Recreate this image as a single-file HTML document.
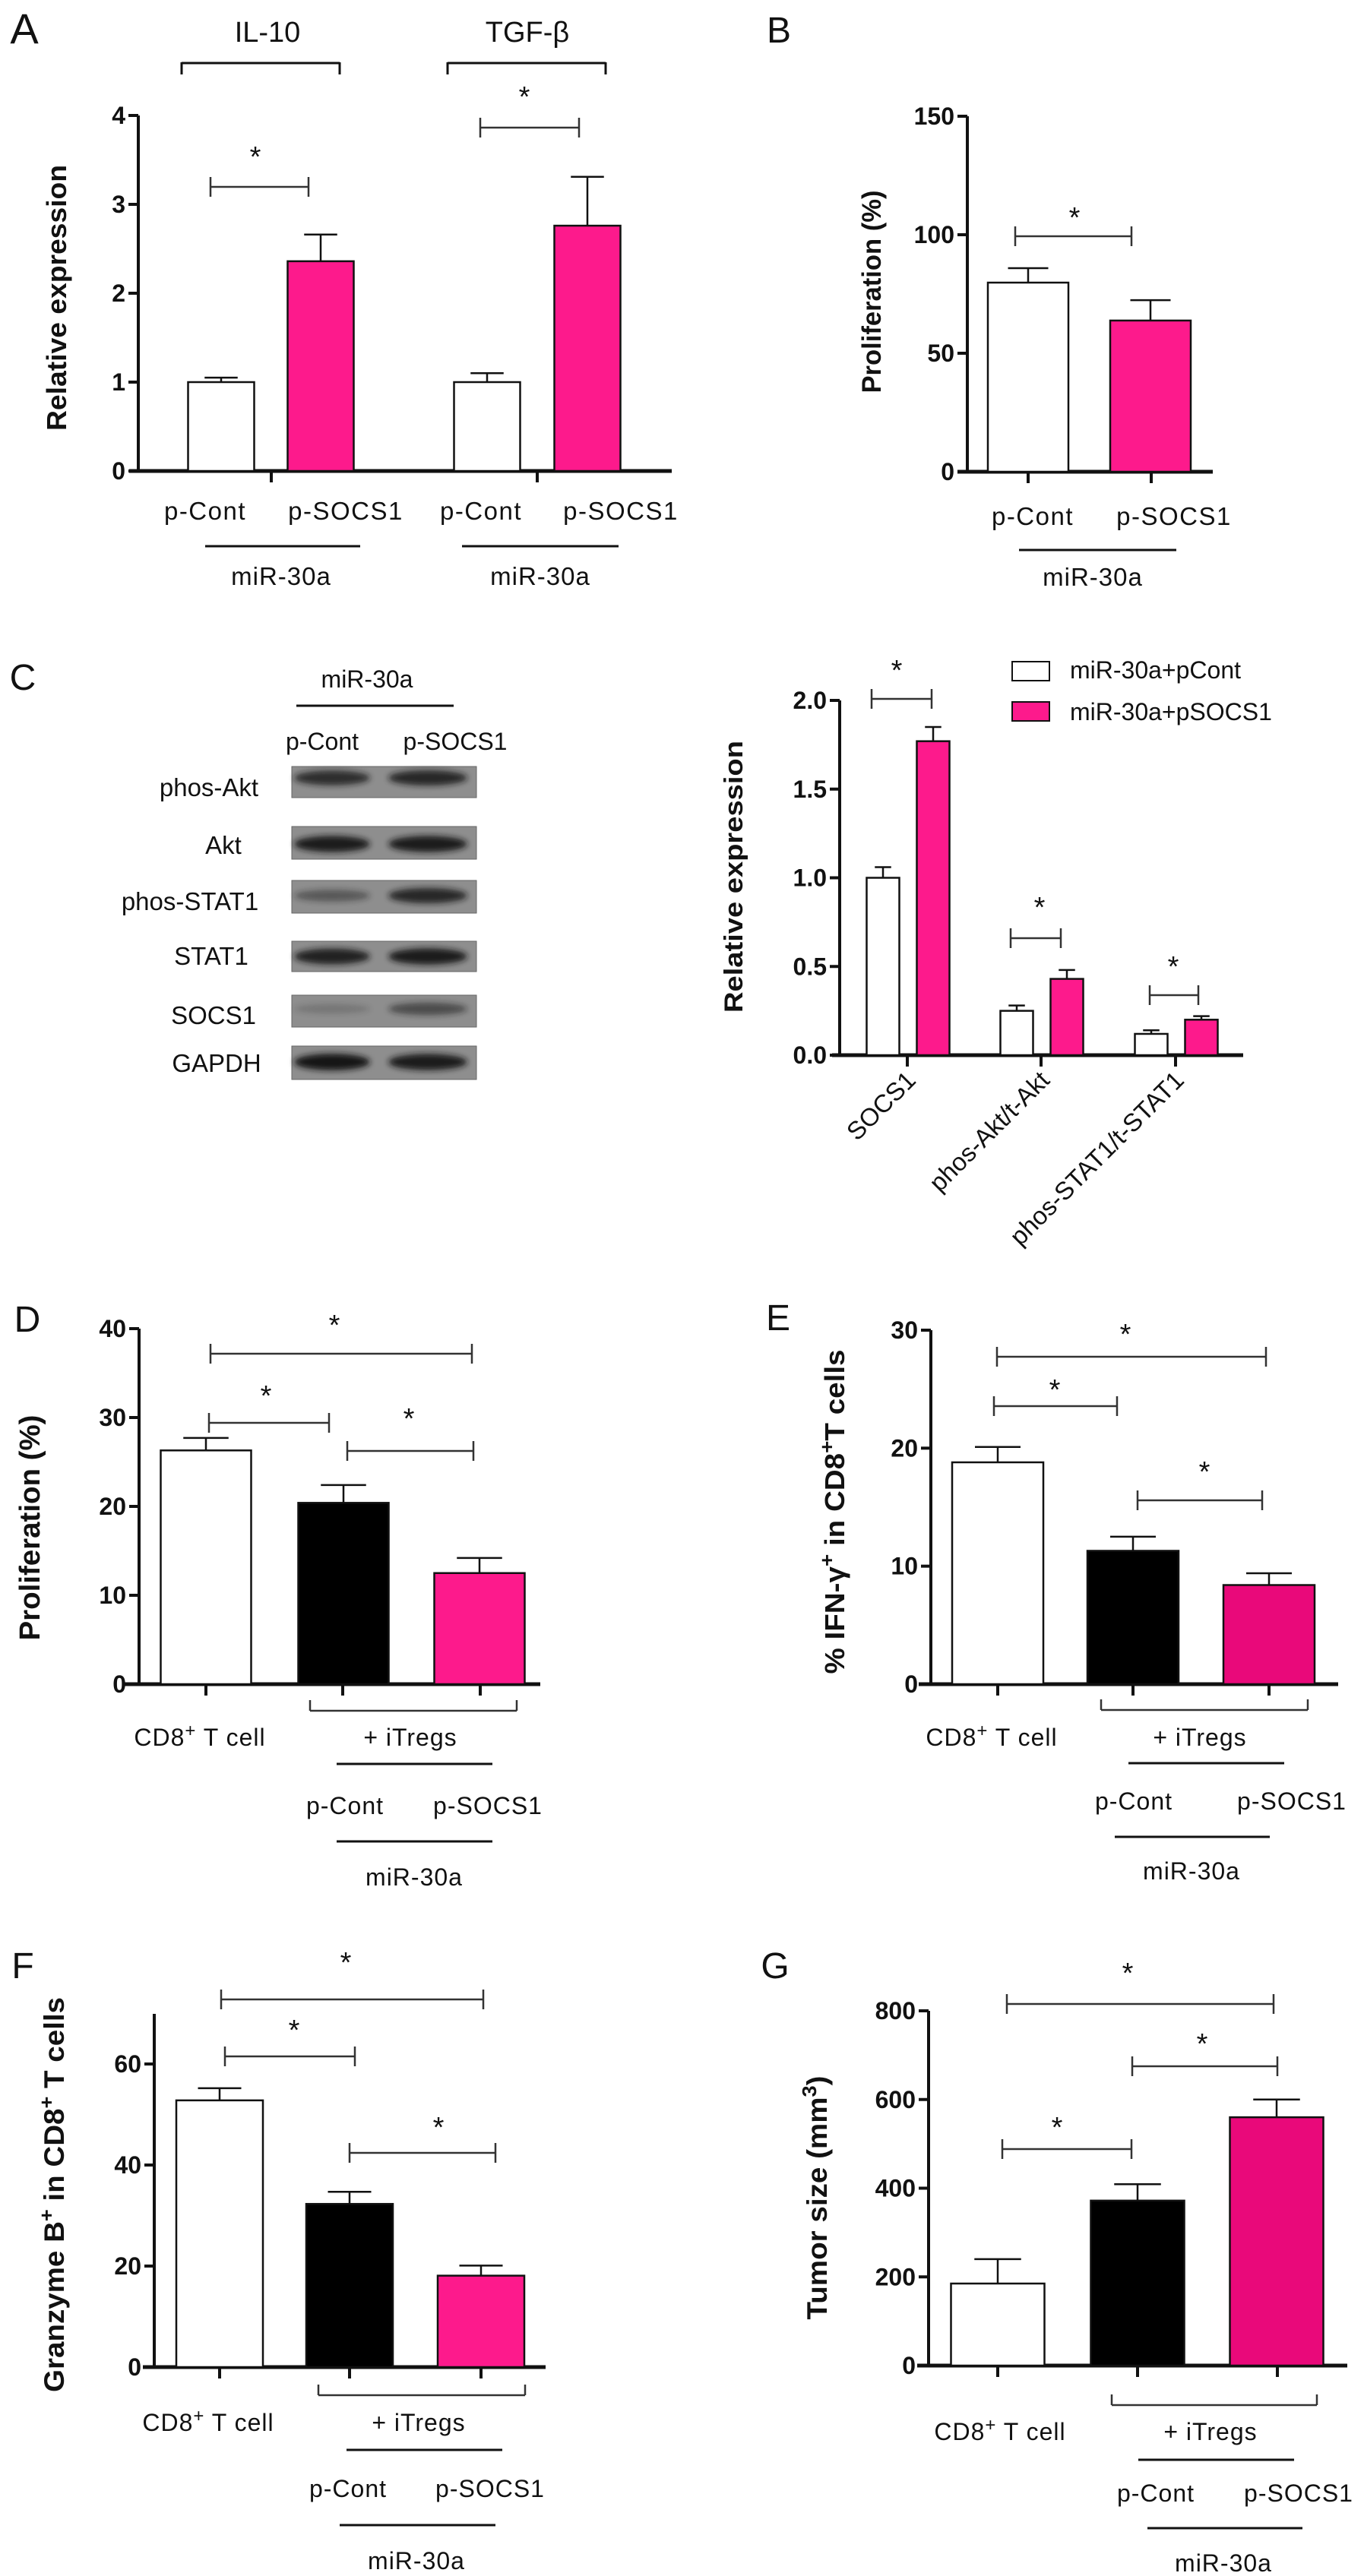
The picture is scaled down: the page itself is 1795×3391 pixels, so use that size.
<!DOCTYPE html>
<html><head><meta charset="utf-8"><title>Figure</title>
<style>
html,body{margin:0;padding:0;background:#fff;}
svg{display:block;}
text{font-family:"Liberation Sans",Arial,sans-serif;fill:#111;}
</style></head>
<body>
<svg id="fig" xmlns="http://www.w3.org/2000/svg" width="1795" height="3391" viewBox="0 0 1795 3391">
<defs><filter id="blur" x="-20%" y="-50%" width="140%" height="200%"><feGaussianBlur stdDeviation="4"/></filter></defs>
<rect x="0" y="0" width="1795" height="3391" fill="#fff"/>
</svg>
<script>
// ---------- data ----------
const aCategories = ["IL-10 p-Cont","IL-10 p-SOCS1","TGF-b p-Cont","TGF-b p-SOCS1"];
const aValues = [1.0, 2.36, 1.0, 2.76];
const aErrors = [0.05, 0.30, 0.10, 0.55];
const aTicks = [0, 1, 2, 3, 4];
const aTickLabels = ["0","1","2","3","4"];

const bCategories = ["p-Cont","p-SOCS1"];
const bValues = [79.8, 63.8];
const bErrors = [6.1, 8.6];
const bTicks = [0, 50, 100, 150];
const bTickLabels = ["0","50","100","150"];

const cCategories = ["SOCS1","phos-Akt/t-Akt","phos-STAT1/t-STAT1"];
const cContValues = [1.0, 0.25, 0.12];
const cContErrors = [0.06, 0.03, 0.02];
const cSocsValues = [1.77, 0.43, 0.20];
const cSocsErrors = [0.08, 0.05, 0.02];
const cTicks = [0, 0.5, 1.0, 1.5, 2.0];
const cTickLabels = ["0.0","0.5","1.0","1.5","2.0"];

const blotRows = ["phos-Akt","Akt","phos-STAT1","STAT1","SOCS1","GAPDH"];
const blotContIntensity = [0.8, 0.95, 0.45, 0.9, 0.2, 1.0];
const blotSocsIntensity = [0.85, 0.95, 0.85, 0.95, 0.55, 0.95];

const dValues = [26.3, 20.4, 12.5];
const dErrors = [1.4, 2.0, 1.7];
const dTicks = [0, 10, 20, 30, 40];
const dTickLabels = ["0","10","20","30","40"];

const eValues = [18.8, 11.3, 8.4];
const eErrors = [1.3, 1.2, 1.0];
const eTicks = [0, 10, 20, 30];
const eTickLabels = ["0","10","20","30"];

const fValues = [52.8, 32.3, 18.1];
const fErrors = [2.4, 2.4, 2.0];
const fTicks = [0, 20, 40, 60];
const fTickLabels = ["0","20","40","60"];

const gValues = [185, 372, 560];
const gErrors = [55, 37, 40];
const gTicks = [0, 200, 400, 600, 800];
const gTickLabels = ["0","200","400","600","800"];

// ---------- helpers ----------
const NS = "http://www.w3.org/2000/svg";
const svg = document.getElementById('fig');
function mk(tag, attrs, name, parent) {
  const e = document.createElementNS(NS, tag);
  for (const k in attrs) e.setAttribute(k, attrs[k]);
  
  
  (parent || svg).appendChild(e);
  return e;
}
function grp(name, parent) { return mk('g', {}, name, parent); }
function line(x1, y1, x2, y2, w, name, parent, col) {
  return mk('line', {x1:x1, y1:y1, x2:x2, y2:y2, stroke: col || '#111', 'stroke-width': w}, name, parent);
}
function txt(x, y, s, size, name, parent, opts) {
  opts = opts || {};
  const a = {x:x, y:y, 'font-size':size, 'text-anchor': opts.anchor || 'middle'};
  if (opts.bold) a['font-weight'] = 'bold';
  if (opts.ls) a['letter-spacing'] = opts.ls;
  if (opts.transform) a.transform = opts.transform;
  if (opts.len) { a.textLength = opts.len; a.lengthAdjust = 'spacingAndGlyphs'; }
  const t = mk('text', a, name, parent);
  t.textContent = s;
  return t;
}
function sig(x1, x2, y, starX, starY, name, parent) {
  const g = grp(name, parent);
  line(x1, y, x2, y, 2.5, 'sig-line', g, '#333');
  line(x1, y - 13, x1, y + 13, 2.5, 'sig-end-left', g, '#333');
  line(x2, y - 13, x2, y + 13, 2.5, 'sig-end-right', g, '#333');
  txt(starX, starY + 16, '*', 38, 'sig-star', g);
}
function axes(p, ticks, labels, parent) {
  const ys = v => p.y0 - (v / p.vmax) * (p.y0 - p.yTop);
  const g = grp('axes', parent);
  line(p.axisX, p.y0 + 2, p.axisX, p.axisTop || p.yTop, 4, 'y-axis-line', g);
  line(p.xStart, p.y0, p.xEnd, p.y0, 5, 'x-axis-line', g);
  ticks.forEach((t, i) => {
    line(p.axisX - 13, ys(t), p.axisX, ys(t), 4, 'y-tick', g);
    txt(p.axisX - 17, ys(t) + 11, labels[i], p.tickSize || 32, 'y-tick-label', g, {anchor:'end', bold:true});
  });
  (p.xTicks || []).forEach(x => line(x, p.y0, x, p.y0 + 15, 4, 'x-tick', g));
  return ys;
}
function bars(ys, centers, width, values, errors, fills, name, parent) {
  const g = grp(name, parent);
  values.forEach((v, i) => {
    const top = ys(v), x = centers[i] - width / 2;
    const eTop = ys(v + errors[i]);
    line(centers[i], top, centers[i], eTop, 2.5, 'error-bar', g);
    line(centers[i] - width / 4, eTop, centers[i] + width / 4, eTop, 2.5, 'error-cap', g);
    mk('rect', {x:x, y:top, width:width, height: ys(0) - top, fill: fills[i], stroke:'#111', 'stroke-width':2.5}, 'bar-' + i, g);
  });
  return g;
}
const PINK = '#fd1a8c', PINK2 = '#e9097a';

// ---------- Panel A ----------
(function(){
  const P = grp('panel-a');
  txt(32, 57, 'A', 56, 'panel-label-a', P);
  txt(352, 55, 'IL-10', 38, 'title-il10', P);
  txt(694, 55, 'TGF-\u03B2', 38, 'title-tgfb', P);
  const b1 = grp('bracket-il10', P);
  line(239, 83, 447, 83, 3, 'bracket-top', b1); line(239, 82, 239, 98, 3, 'bracket-l', b1); line(447, 82, 447, 98, 3, 'bracket-r', b1);
  const b2 = grp('bracket-tgfb', P);
  line(589, 83, 797, 83, 3, 'bracket-top', b2); line(589, 82, 589, 98, 3, 'bracket-l', b2); line(797, 82, 797, 98, 3, 'bracket-r', b2);
  const p = {axisX:182, y0:620, yTop:152, vmax:4, xStart:170, xEnd:884, xTicks:[357,707], tickSize:32};
  const ys = axes(p, aTicks, aTickLabels, P);
  bars(ys, [291, 422, 641, 773], 87, aValues, aErrors, ['#fff', PINK, '#fff', PINK], 'bars-a', P);
  sig(277, 406, 246, 336, 203, 'sig-il10', P);
  sig(632, 762, 168, 690, 124, 'sig-tgfb', P);
  txt(87, 392, 'Relative expression', 36, 'y-axis-title-a', P, {bold:true, transform:'rotate(-90 87 392)', len:350});
  [['p-Cont',270],['p-SOCS1',455],['p-Cont',633],['p-SOCS1',817]].forEach(l => txt(l[1], 684, l[0], 33, 'x-label', P, {ls:1.5}));
  line(270, 719, 474, 719, 3, 'group-line', P); line(608, 719, 814, 719, 3, 'group-line', P);
  txt(370, 770, 'miR-30a', 33, 'group-label', P, {ls:1}); txt(711, 770, 'miR-30a', 33, 'group-label', P, {ls:1});
})();

// ---------- Panel B ----------
(function(){
  const P = grp('panel-b');
  txt(1025, 56, 'B', 48, 'panel-label-b', P);
  const p = {axisX:1273, y0:621, yTop:153, vmax:150, xStart:1260, xEnd:1596, xTicks:[1353,1515], tickSize:32};
  const ys = axes(p, bTicks, bTickLabels, P);
  bars(ys, [1353, 1514], 106, bValues, bErrors, ['#fff', PINK], 'bars-b', P);
  sig(1336, 1489, 311, 1414, 283, 'sig-b', P);
  txt(1159, 384, 'Proliferation (%)', 35, 'y-axis-title-b', P, {bold:true, transform:'rotate(-90 1159 384)', len:267});
  txt(1359, 691, 'p-Cont', 33, 'x-label', P, {ls:1.5});
  txt(1545, 691, 'p-SOCS1', 33, 'x-label', P, {ls:1.5});
  line(1341, 724, 1548, 724, 3, 'group-line', P);
  txt(1438, 771, 'miR-30a', 33, 'group-label', P, {ls:1});
})();

// ---------- Panel C blot ----------
(function(){
  const P = grp('panel-c-blot');
  txt(30, 908, 'C', 48, 'panel-label-c', P);
  txt(483, 905, 'miR-30a', 32, 'blot-group-label', P);
  line(390, 929, 597, 929, 3, 'blot-group-line', P);
  txt(424, 987, 'p-Cont', 32, 'lane-label', P);
  txt(599, 987, 'p-SOCS1', 32, 'lane-label', P);
  const rowTops = [1009, 1088, 1159, 1239, 1310, 1377];
  const rowHeights = [41, 43, 43, 40, 42, 44];
  const bandYs = [1024, 1111, 1179, 1259, 1328, 1398];
  const labelX = [275, 294, 250, 278, 281, 285];
  const labelY = [1048, 1124, 1198, 1270, 1348, 1411];
  blotRows.forEach((r, i) => {
    const g = grp('blot-row-' + r.toLowerCase(), P);
    txt(labelX[i], labelY[i], r, 33, 'blot-row-label', g);
    mk('rect', {x:384, y:rowTops[i], width:243, height:rowHeights[i], fill:'#8e8e8e', stroke:'#666', 'stroke-width':1}, 'blot-strip', g);
    const ci = blotContIntensity[i], si = blotSocsIntensity[i];
    mk('ellipse', {cx:437, cy:bandYs[i], rx:50, ry:5 + 6 * ci, fill:'#151515', opacity:ci, filter:'url(#blur)'}, 'band-pcont', g);
    mk('ellipse', {cx:563, cy:bandYs[i], rx:52, ry:5 + 6 * si, fill:'#151515', opacity:si, filter:'url(#blur)'}, 'band-psocs1', g);
  });
})();

// ---------- Panel C chart ----------
(function(){
  const P = grp('panel-c-chart');
  const p = {axisX:1105, y0:1389, yTop:922, vmax:2, xStart:1095, xEnd:1636, xTicks:[1194,1370,1547], tickSize:32};
  const ys = axes(p, cTicks, cTickLabels, P);
  const cx = [1194, 1370, 1547];
  bars(ys, cx.map(c => c - 32), 43, cContValues, cContErrors, ['#fff','#fff','#fff'], 'bars-c-pcont', P);
  bars(ys, cx.map(c => c + 34), 43, cSocsValues, cSocsErrors, [PINK, PINK, PINK], 'bars-c-psocs1', P);
  sig(1147, 1226, 920, 1180, 879, 'sig-c-socs1', P);
  sig(1330, 1396, 1235, 1368, 1191, 'sig-c-akt', P);
  sig(1513, 1577, 1310, 1544, 1269, 'sig-c-stat1', P);
  txt(977, 1154, 'Relative expression', 34, 'y-axis-title-c', P, {bold:true, transform:'rotate(-90 977 1154)', len:358});
  cCategories.forEach((c, i) => {
    const x = cx[i] + 13, y = 1424;
    txt(x, y, c, 33, 'x-label-rotated', P, {anchor:'end', transform:'rotate(-45 ' + x + ' ' + y + ')'});
  });
  const L = grp('legend-c', P);
  mk('rect', {x:1332, y:871, width:49, height:25, fill:'#fff', stroke:'#111', 'stroke-width':2}, 'legend-swatch-pcont', L);
  txt(1408, 893, 'miR-30a+pCont', 32, 'legend-label-pcont', L, {anchor:'start'});
  mk('rect', {x:1332, y:924, width:49, height:25, fill:PINK, stroke:'#111', 'stroke-width':2}, 'legend-swatch-psocs1', L);
  txt(1408, 948, 'miR-30a+pSOCS1', 32, 'legend-label-psocs1', L, {anchor:'start'});
})();

// ---------- D/E/F/G ----------
function bottomLabels(P, o) {
  const g = grp('x-labels', P);
  const t1 = txt(o.cdX, o.y1, 'CD8', 32, 'x-label-cd8', g, {ls:1});
  const ts = mk('tspan', {dy:-12, 'font-size':24}, 'superscript', t1); ts.textContent = '+';
  const ts2 = mk('tspan', {dy:12}, 'label-rest', t1); ts2.textContent = ' T cell';
  const b = grp('itreg-bracket', g);
  line(o.bx1, o.by, o.bx2, o.by, 2.5, 'bracket-line', b, '#333');
  line(o.bx1, o.by, o.bx1, o.by - 14, 2.5, 'bracket-l', b, '#333');
  line(o.bx2, o.by, o.bx2, o.by - 14, 2.5, 'bracket-r', b, '#333');
  txt(o.itX, o.y1, '+  iTregs', 32, 'x-label-itregs', g, {ls:1});
  line(o.l1x1, o.l1y, o.l1x2, o.l1y, 3, 'group-line', g);
  txt(o.pcX, o.y2, 'p-Cont', 32, 'x-label-pcont', g, {ls:1});
  txt(o.psX, o.y2, 'p-SOCS1', 32, 'x-label-psocs1', g, {ls:1});
  line(o.l2x1, o.l2y, o.l2x2, o.l2y, 3, 'group-line', g);
  txt(o.mX, o.y3, 'miR-30a', 32, 'group-label', g, {ls:1});
}

(function(){
  const P = grp('panel-d');
  txt(36, 1753, 'D', 48, 'panel-label-d', P);
  const p = {axisX:183, y0:2217, yTop:1749, vmax:40, xStart:164, xEnd:711, xTicks:[271,451,632]};
  const ys = axes(p, dTicks, dTickLabels, P);
  bars(ys, [271, 452, 631], 119, dValues, dErrors, ['#fff', '#000', PINK], 'bars-d', P);
  sig(277, 621, 1782, 440, 1741, 'sig-d-1', P);
  sig(275, 433, 1873, 350, 1834, 'sig-d-2', P);
  sig(457, 623, 1910, 538, 1864, 'sig-d-3', P);
  txt(52, 2011, 'Proliferation (%)', 38, 'y-axis-title-d', P, {bold:true, transform:'rotate(-90 52 2011)', len:297});
  bottomLabels(P, {cdX:263, y1:2298, bx1:408, bx2:680, by:2252, itX:540, l1x1:443, l1x2:648, l1y:2322, pcX:454, psX:642, y2:2388, l2x1:443, l2x2:648, l2y:2424, mX:545, y3:2482});
})();

(function(){
  const P = grp('panel-e');
  txt(1024, 1751, 'E', 48, 'panel-label-e', P);
  const p = {axisX:1225, y0:2217, yTop:1751, vmax:30, xStart:1209, xEnd:1761, xTicks:[1313,1491,1670]};
  const ys = axes(p, eTicks, eTickLabels, P);
  bars(ys, [1313, 1491, 1670], 120, eValues, eErrors, ['#fff', '#000', PINK2], 'bars-e', P);
  sig(1312, 1666, 1786, 1481, 1753, 'sig-e-1', P);
  sig(1308, 1470, 1851, 1388, 1826, 'sig-e-2', P);
  sig(1497, 1661, 1975, 1585, 1934, 'sig-e-3', P);
  const t = txt(1111, 1990, '% IFN-\u03B3', 36, 'y-axis-title-e', P, {bold:true, transform:'rotate(-90 1111 1990)', len:427});
  const s1 = mk('tspan', {dy:-14, 'font-size':26}, 'superscript', t); s1.textContent = '+';
  const s2 = mk('tspan', {dy:14}, 'title-part', t); s2.textContent = ' in CD8';
  const s3 = mk('tspan', {dy:-14, 'font-size':26}, 'superscript', t); s3.textContent = '+';
  const s4 = mk('tspan', {dy:14}, 'title-part', t); s4.textContent = 'T cells';
  bottomLabels(P, {cdX:1305, y1:2298, bx1:1449, bx2:1721, by:2251, itX:1579, l1x1:1485, l1x2:1690, l1y:2321, pcX:1492, psX:1700, y2:2382, l2x1:1467, l2x2:1671, l2y:2418, mX:1568, y3:2474});
})();

(function(){
  const P = grp('panel-f');
  txt(30, 2604, 'F', 48, 'panel-label-f', P);
  const p = {axisX:203, y0:3116, yTop:2717, vmax:60, axisTop:2651, xStart:188, xEnd:718, xTicks:[289,460,633]};
  const ys = axes(p, fTicks, fTickLabels, P);
  bars(ys, [289, 460, 633], 114, fValues, fErrors, ['#fff', '#000', PINK], 'bars-f', P);
  sig(291, 636, 2632, 455, 2580, 'sig-f-1', P);
  sig(296, 467, 2707, 387, 2669, 'sig-f-2', P);
  sig(460, 652, 2834, 577, 2797, 'sig-f-3', P);
  const t = txt(84, 2889, 'Granzyme B', 37, 'y-axis-title-f', P, {bold:true, transform:'rotate(-90 84 2889)', len:520});
  const s1 = mk('tspan', {dy:-14, 'font-size':26}, 'superscript', t); s1.textContent = '+';
  const s2 = mk('tspan', {dy:14}, 'title-part', t); s2.textContent = ' in CD8';
  const s3 = mk('tspan', {dy:-14, 'font-size':26}, 'superscript', t); s3.textContent = '+';
  const s4 = mk('tspan', {dy:14}, 'title-part', t); s4.textContent = ' T cells';
  bottomLabels(P, {cdX:274, y1:3200, bx1:419, bx2:691, by:3153, itX:551, l1x1:456, l1x2:661, l1y:3225, pcX:458, psX:645, y2:3287, l2x1:447, l2x2:652, l2y:3324, mX:548, y3:3382});
})();

(function(){
  const P = grp('panel-g');
  txt(1020, 2604, 'G', 48, 'panel-label-g', P);
  const p = {axisX:1222, y0:3114, yTop:2647, vmax:800, xStart:1207, xEnd:1773, xTicks:[1313,1497,1681]};
  const ys = axes(p, gTicks, gTickLabels, P);
  bars(ys, [1313, 1497, 1680], 123, gValues, gErrors, ['#fff', '#000', PINK2], 'bars-g', P);
  sig(1325, 1676, 2638, 1484, 2594, 'sig-g-1', P);
  sig(1490, 1681, 2720, 1582, 2687, 'sig-g-2', P);
  sig(1319, 1489, 2829, 1391, 2797, 'sig-g-3', P);
  const t = txt(1088, 2893, 'Tumor size (mm', 37, 'y-axis-title-g', P, {bold:true, transform:'rotate(-90 1088 2893)', len:321});
  const s1 = mk('tspan', {dy:-14, 'font-size':26}, 'superscript', t); s1.textContent = '3';
  const s2 = mk('tspan', {dy:14}, 'title-part', t); s2.textContent = ')';
  bottomLabels(P, {cdX:1316, y1:3212, bx1:1463, bx2:1733, by:3166, itX:1593, l1x1:1498, l1x2:1703, l1y:3238, pcX:1521, psX:1709, y2:3293, l2x1:1510, l2x2:1714, l2y:3328, mX:1610, y3:3385});
})();
</script>
</body></html>
